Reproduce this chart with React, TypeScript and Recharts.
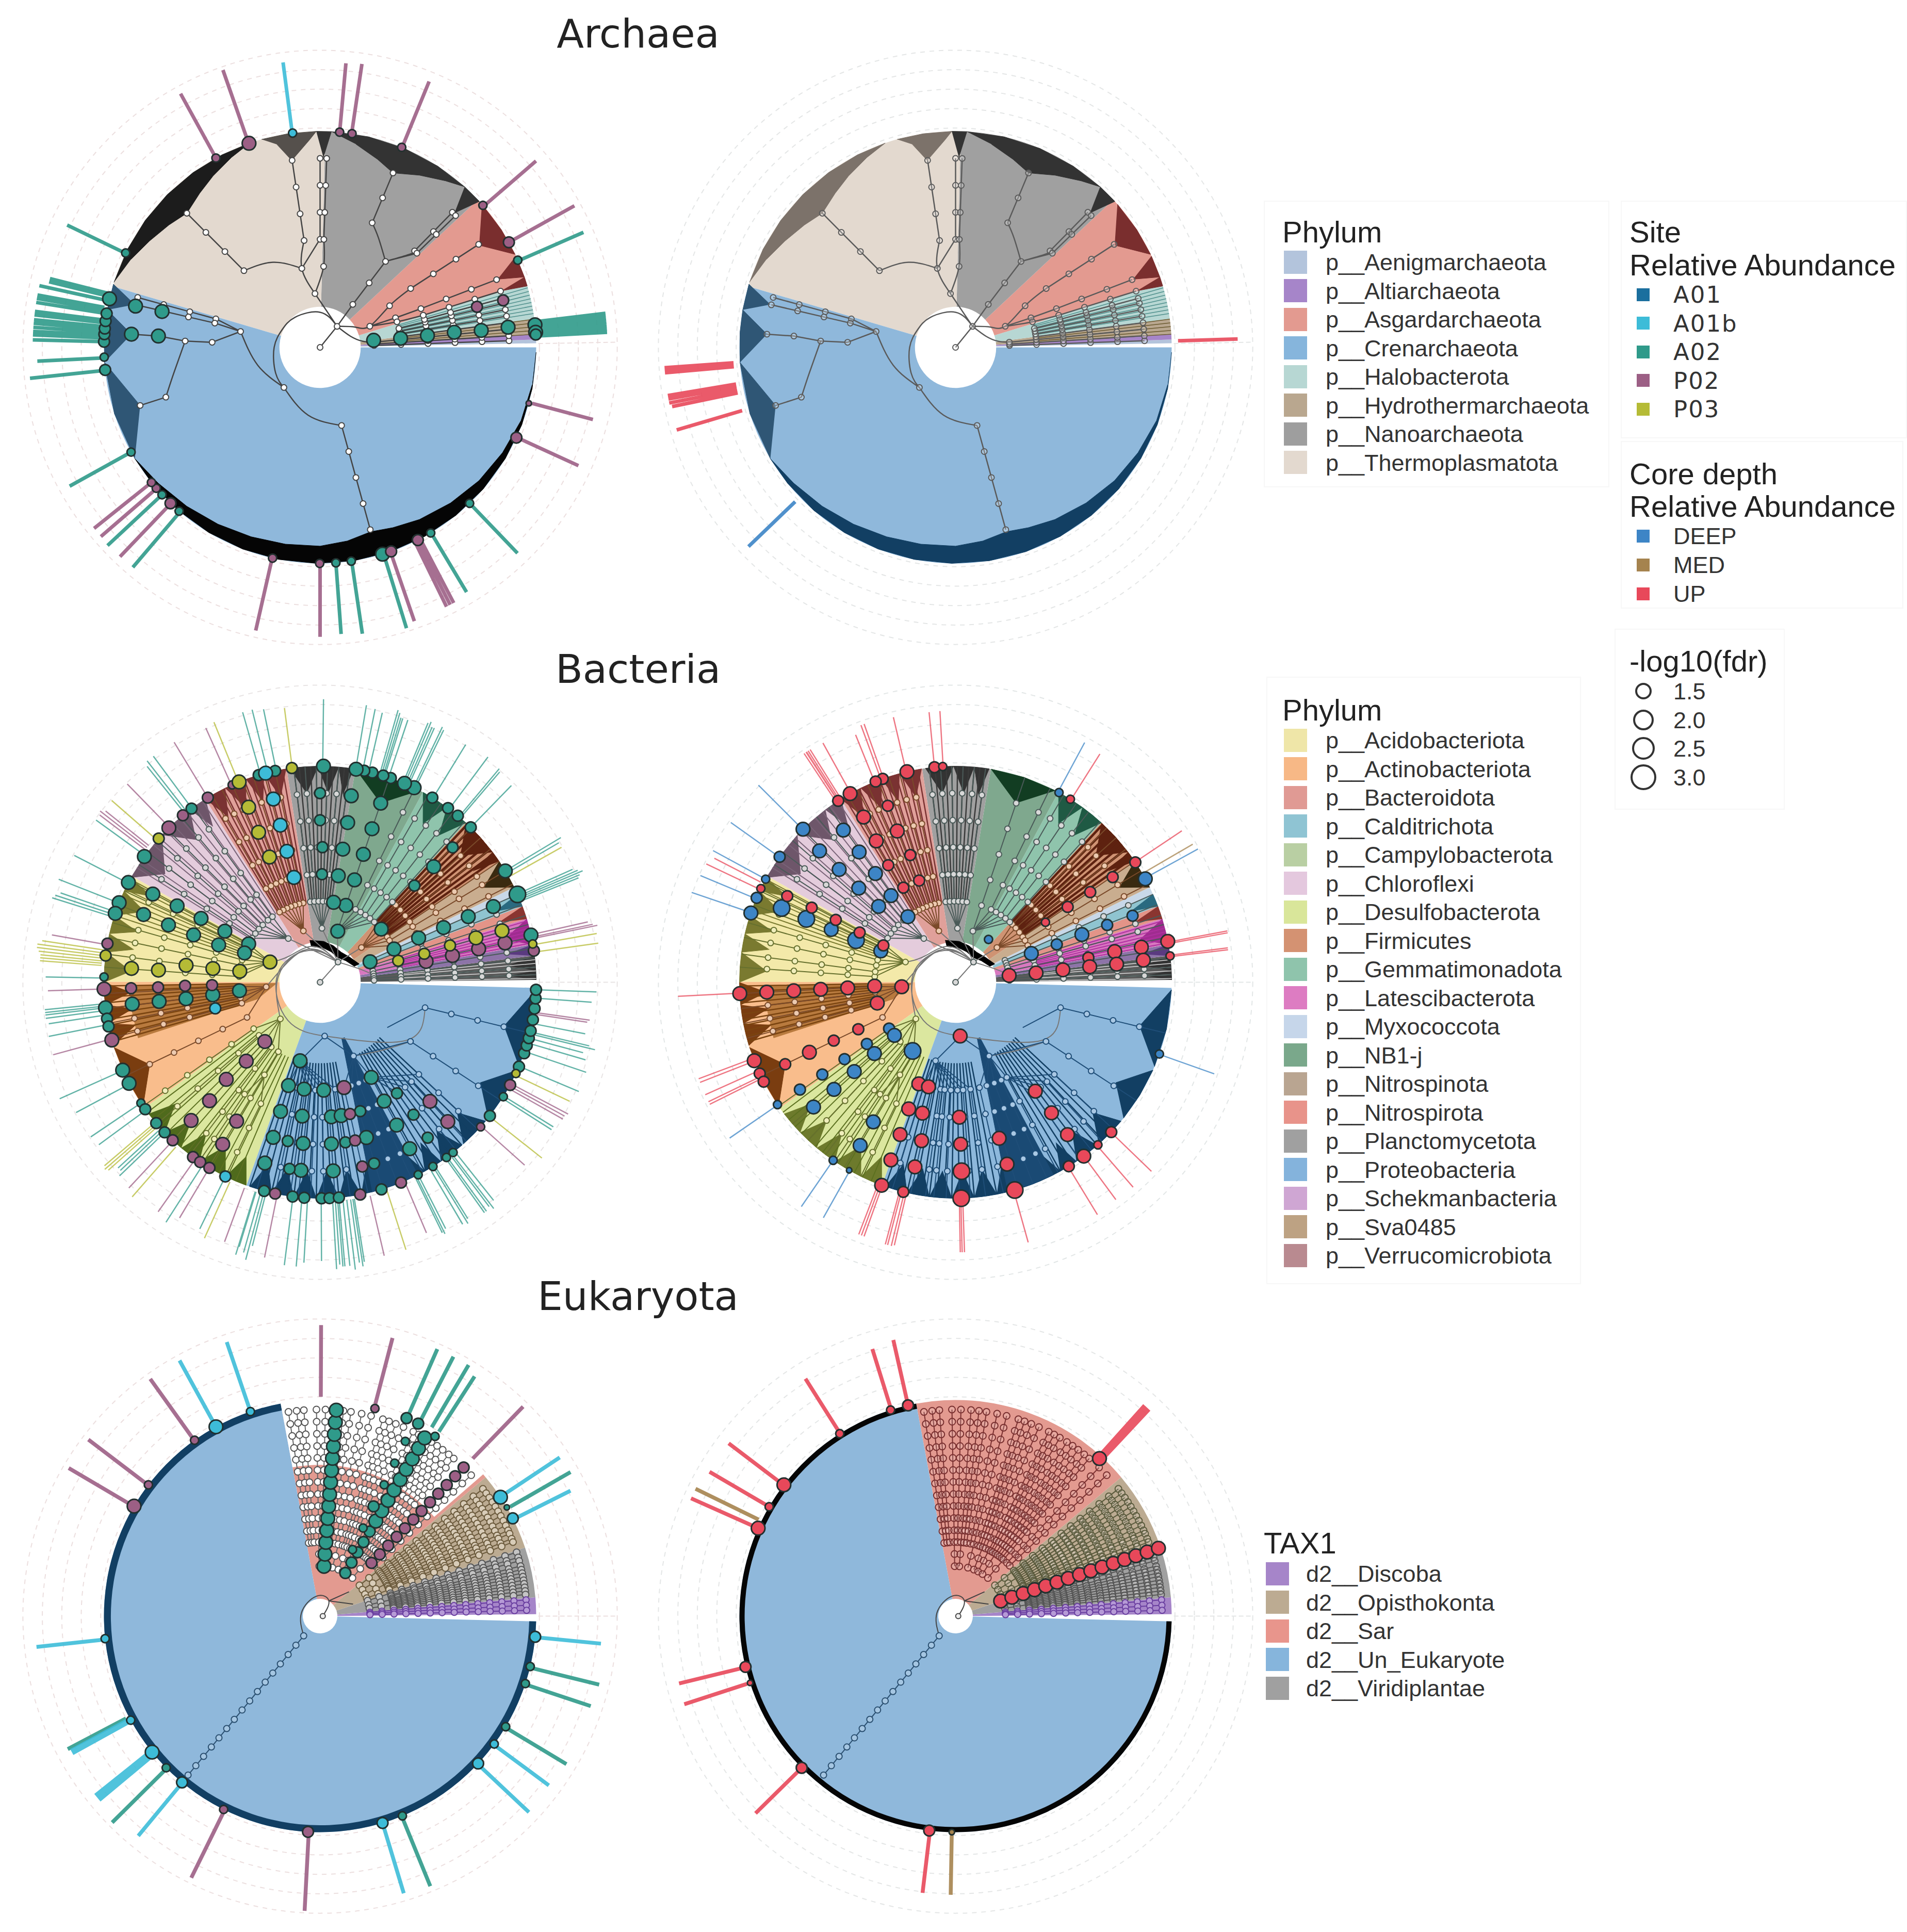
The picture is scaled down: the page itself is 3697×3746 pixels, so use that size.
// App.tsx - circular taxonomy trees, drawn with Pie (clades) and Scatter (fans, branches, nodes, spokes)
import React from 'react';
import { PieChart, Pie, Cell, ScatterChart, Scatter, XAxis, YAxis, ReferenceDot } from 'recharts';

const U = 4.19; // pixels per depth unit (100 = tree tips)
const SPAN = 140;
const SIZE = Math.round(2 * SPAN * U);
const RANK = 12.5; // depth of one taxonomic rank
const INK = '#444';

const siteColors: any = { A01: '#1b6f9e', A01b: '#3dbcd8', A02: '#2f9a8a', P02: '#9c5f85', P03: '#b5bb36', DEEP: '#3d85c6', MED: '#a5834e', UP: '#e8485a' };

// rank sets used by the branches
const r27 = [2, 3, 4, 5, 6, 7];
const r37 = [3, 4, 5, 6, 7];
const r47 = [4, 5, 6, 7];
const r57 = [5, 6, 7];
const ringDepths = [137.5, 128.5, 119.5, 110.5, 101.5];

// ---------- Archaea ----------
const archaeaClades = [
  ['p__Aenigmarchaeota', 1, '#b3c4dc'], ['p__Altiarchaeota', 1.5, '#a685c9'], ['p__Hydrothermarchaeota', 4, '#b9a78f'],
  ['p__Halobacterota', 9.5, '#b7d7d3'], ['p__Asgardarchaeota', 26, '#e39a90'], ['p__Nanoarchaeota', 45.5, '#a0a0a0'],
  ['p__Thermoplasmatota', 75, '#e3d9cf'], ['p__Crenarchaeota', 196.4, '#8fb8db'],
];
const archaeaFanThermo = [
  [[162.5, 100], [153, 100], [144, 100], [135, 100], [126, 100], [117, 100], [109, 100], [115, 97], [122, 93.5], [128, 90.5], [134.8, 87.5], [141, 90], [148, 93], [155, 96.5]],
];
const archaeaFanThermoSmall = [[[105.7, 100], [98.6, 100], [91, 100], [93, 96], [98.6, 87.5], [102, 96]]];
const archaeaFanNano = [
  [[87, 100], [77, 100], [67, 100], [57, 100], [48, 100], [53, 96.5], [60, 92], [67.3, 87.5], [73, 91], [80, 95.5]],
  [[91, 100], [87, 100], [89, 88]],
  [[48, 100], [42.5, 100], [45, 88]],
];
const archaeaFanAsgard = [
  [[41.5, 100], [33, 100], [25.5, 100], [32.7, 87.5]],
  [[25, 100], [19, 100], [21, 88]],
  [[19, 100], [16.5, 100], [17.3, 88]],
];
const archaeaFanCren = [
  [[358.7, 100], [349, 100], [339, 100], [329, 100], [319, 100], [309, 100], [299, 100], [289, 100], [279, 100], [269, 100], [259, 100], [249, 100], [239, 100], [229, 100], [219, 100], [211, 100],
    [220, 97.8], [230, 96], [240, 94.5], [250, 93.3], [260, 92.5], [270, 92], [278, 90.5], [285.4, 88.5], [292, 90], [300, 92], [310, 94], [320, 96], [330, 97.5], [340, 99], [350, 99.7]],
];
const archaeaFanCrenSmall = [
  [[211, 100], [197.9, 100], [184, 100], [197.9, 87.5]],
  [[184, 100], [176, 100], [170, 100], [176, 87.5]],
  [[170, 100], [163, 100], [167, 88]],
];
const leavesArchaeaHalo = [9, 10, 11, 12, 13, 14, 15, 16];
const leavesArchaeaHydro = [3.5, 4.5, 5.5, 6.5, 7.5];
const archaeaSpines = [
  [2, r27], [3.5, r27], [5.5, r27], [7.5, r37], [9.5, r37], [11.5, r37], [13.5, r37], [15, r47],
  [33, r47], [21, r47], [17.3, r47], [52.7, [2, 3, 4]], [67.3, r57], [45.6, r57], [44.2, r57],
  [95.4, [2]], [98.5, r47], [134.8, r47], [90, r47], [88, r47], [87.5, [3]], [103, [3]],
  [285.4, r37], [197.9, [6, 7]], [176, [6, 7]], [177.3, [4, 5]], [164.7, r47], [167, r47], [228, [2]], [168.7, [3]], [51, [1]],
  [23, [2]], [30.9, [3]], [21.4, [3]], [18.4, [3]], [0, [0]],
];
const archaeaLinks = [
  [[0, 0], [51, 1]], [[51, 1], [95.4, 2]], [[95.4, 2], [103, 3], [98.5, 4]], [[103, 3], [119, 3.6], [134.8, 4]],
  [[95.4, 2], [87.5, 3], [88, 4]], [[103, 3], [92, 3.8], [90, 4]], [[51, 1], [52.7, 2]], [[52.7, 4], [62, 4.6], [67.3, 5]],
  [[52.7, 4], [46, 4.8], [45.6, 5]], [[52.7, 4], [44.2, 5]], [[51, 1], [30, 1.5], [23, 2], [30.9, 3], [33, 4]],
  [[23, 2], [21.4, 3], [21, 4]], [[23, 2], [18.4, 3], [17.3, 4]], [[51, 1], [20, 1.2], [8, 1.6], [5.5, 2]],
  [[51, 1], [90, 1.3], [130, 1.45], [155, 1.55], [180, 1.7], [210, 1.9], [228, 2]], [[228, 2], [260, 2.55], [285.4, 3]],
  [[228, 2], [196, 2.4], [168.7, 3]], [[168.7, 3], [177.3, 4]], [[177.3, 5], [190, 5.5], [197.9, 6]], [[177.3, 5], [176, 6]],
  [[168.7, 3], [164.7, 4]], [[168.7, 3], [167, 4]],
];
const archaeaLeftHitsA02 = [
  [7.5, 2, 2.5], [6.4, 3, 2.5], [6.3, 4, 2.5], [6.4, 5, 2.5], [6, 6, 2.5], [6.1, 7, 2.5], [6, 8, 2.5], [4, 8, 2.5], [3.4, 8, 2],
  [23.8, 8, 1.5], [313.8, 8, 1.5], [300.8, 8, 1.5], [286.8, 8, 2.5], [278.3, 8, 1.5], [274.2, 8, 1.5], [229.3, 8, 1.5], [223, 8, 1.5],
  [209, 8, 1.5], [186, 8, 2], [182.6, 8, 1.5], [178.5, 8, 2], [176.5, 8, 2], [175, 8, 2], [173, 8, 2], [171, 8, 2], [167, 8, 2.5],
  [154.1, 8, 1.5], [167.2, 6, 2.5], [167.4, 7, 2.5], [176, 7, 2.5], [176, 6, 2.5],
];
const archaeaLeftHitsP02 = [
  [41.1, 8, 1.5], [29.1, 8, 2], [345, 8, 1], [335.3, 8, 2], [296.9, 8, 2], [289.2, 8, 2], [269.9, 8, 1.5], [257.3, 8, 1.5],
  [226.2, 8, 2], [220.7, 8, 1.5], [218.7, 8, 1.5], [118.8, 8, 1.5], [109.2, 8, 2.5], [84.8, 8, 1.5], [81.5, 8, 1.5], [67.8, 8, 1.5],
  [14.5, 6, 2], [14.4, 7, 2],
];
const archaeaLeftHitsA01b = [[97.3, 8, 1.5]];
const archaeaLeftSpokesA02 = [
  [23.6, 133], [6.8, 133], [6.2, 133], [5.6, 133], [5, 133], [4.4, 133], [3.7, 133], [3, 133], [313.8, 132], [300.9, 132], [287.1, 136],
  [278.4, 134], [274.2, 133], [229.6, 133.7], [223, 134.5], [209, 132.5], [186.1, 135], [182.8, 131], [178.5, 133], [177.5, 133],
  [176.8, 133], [176, 133], [175.2, 133], [174.5, 133], [173.5, 133], [172.8, 133], [171, 133], [170.2, 133], [169.5, 133], [167.6, 133], [166.4, 129], [165.7, 129], [154.2, 130],
];
const archaeaLeftSpokesP02 = [
  [40.8, 132], [29.1, 134.7], [345.2, 130.6], [335.4, 131.5], [296, 133.5], [296.8, 133.5], [297.6, 133.5], [289, 134], [270, 134],
  [257.2, 134.4], [226.3, 134], [220.8, 134], [218.7, 134], [118.8, 134], [109.3, 136], [84.8, 132], [81.6, 132.6], [67.7, 133],
];
const archaeaLeftSpokesA01b = [[97.4, 133]];
const archaeaRightSpokesUP = [
  [184, 135], [184.5, 135], [185, 135], [189.5, 135], [190.2, 135], [191, 135], [191.8, 134], [196.5, 134.6], [1.7, 130.6],
];
const archaeaRightSpokesDEEP = [[223.9, 133]];

// ---------- Bacteria ----------
const bacteriaClades = [
  ['low', 6.5, '#5a5a5a'], ['p__Schekmanbacteria', 3, '#8d74a8'], ['p__Latescibacterota', 7, '#d878c0'], ['p__Nitrospirota', 3.5, '#e39488'],
  ['p__Calditrichota', 3.5, '#8fc4d0'], ['p__Myxococcota', 2, '#c8d8e8'], ['p__Nitrospinota', 8, '#c9ad8f'], ['p__Firmicutes', 13.5, '#cf9373'],
  ['p__Gemmatimonadota', 14, '#8fc4ac'], ['p__NB1-j', 19, '#7fa88e'], ['p__Planctomycetota', 18.3, '#a0a0a0'], ['p__Bacteroidota', 23.2, '#e0a09a'],
  ['p__Chloroflexi', 28.5, '#e4ccdc'], ['p__Acidobacteriota', 29.3, '#f3e9a9'], ['p__Actinobacteriota', 35.7, '#f9bd8c'],
  ['p__Desulfobacterota', 34.5, '#dbe79f'], ['p__Proteobacteria', 108.4, '#8db8dc'],
];
// teeth: [apex angle, arc start, arc end], apex sits on rank 7
const teethProteo = [
  [346.6, 358, 337], [327.9, 336, 321], [316.4, 320, 311.5], [308, 311, 304], [302, 304, 299], [296, 299, 293], [290, 293, 287],
  [284, 287, 281], [278, 281, 275], [272, 275, 269], [266, 269, 263], [260, 263, 257], [254, 257, 251],
];
const teethDesulfo = [[247, 250, 244], [240, 244, 236], [233, 236, 230], [227, 230, 224], [220, 224, 217.5]];
const teethActino = [[205.7, 215, 197.5], [193, 197, 191], [188, 191, 186], [183, 186, 180]];
const teethAcido = [[176.6, 180, 172], [170, 172, 167], [164.5, 167, 162], [158, 162, 155], [153, 155, 151]];
const teethChloro = [[145, 151, 137], [131, 137, 127], [124.5, 127, 122]];
const teethBactero = [[119, 122, 116], [113, 116, 110], [107.5, 110, 105], [102, 105, 99]];
const teethPlancto = [[94, 98, 90.5], [87.5, 90.5, 85], [83, 85, 81]];
const teethNB1 = [[71.3, 80.5, 62.5]];
const teethGemmat = [[57, 61.5, 54], [51, 54, 47.5]];
const teethFirmi = [[42, 47.5, 37], [36, 37, 34]];
const teethNitrospina = [[30, 34, 26]];
const teethCaldi = [[22, 24, 20.5]];
const teethNitrospiro = [[18.5, 20.5, 17]];
const teethLatesci = [[13, 17, 10]];
const teethSchek = [[8.5, 10, 7]];
const teethLow = [[5, 7, 3], [2, 3, 0.6]];
const bacteriaHatchPatches = [[[181, 20], [195, 30], [197, 88], [189, 88], [181, 88]]];
const bacteriaProteoBand = [[[294, 28], [291, 28], [284, 100], [291, 100], [297, 100]]];
const bacteriaCentreBlob = [[[104, 17], [85, 16], [70, 15], [55, 14], [40, 15.5], [25, 17.5], [25, 20], [40, 18], [55, 17], [70, 18], [85, 19], [104, 20]]];
const leavesBactero = [100, 101.5, 103, 104.5, 106, 107.5, 109, 110.5, 112, 113.5, 115, 116.5, 118, 119.5, 121];
const leavesPlancto = [82, 83.5, 85, 86.5, 88, 89.5, 91, 92.5, 94, 95.5, 97];
const leavesFirmi = [35, 36.5, 38, 39.5, 41, 42.5, 44, 45.5, 47];
const leavesActino = [181, 182.5, 184, 185.5, 187, 188.5, 190, 191.5, 193, 194.5, 196];
const leavesLatesci = [10.5, 11.5, 12.5, 13.5, 14.5, 15.5, 16.5];
const leavesLow = [1, 2, 3, 4, 5, 6];
const leavesAcidoUpper = [151.5, 153, 154.5, 156, 157.5, 159, 160.5, 162];
const leavesChloro = [123, 125.5, 128, 130.5, 133, 135.5, 138, 140.5, 143, 145.5, 148];
const leavesDesulfo = [217, 219.5, 222, 224.5, 227, 229.5, 232, 234.5, 237, 239.5, 242, 244.5, 247];
const leavesProteo = [251, 253, 255, 257, 259, 261, 263, 265, 267, 269, 271, 273, 275, 277, 279, 281, 299, 301, 303, 305, 307, 309, 311, 313, 315, 317];
const spinesBlue = [
  [253, r47, 255.7], [258, r47, 255.7], [262, r47, 255.7], [264.2, r47, 255.7], [267.5, r47, 255.7], [271, r47, 255.7], [274, r47, 255.7], [278, r47, 255.7],
  [282.8, r47, 294.4], [286.8, r47, 294.4], [291, r47, 294.4], [295, r47, 294.4], [298.3, r47, 294.4], [305, r57, 298.3], [309, r57, 298.3], [312.6, r57, 298.3], [317, r57, 298.3],
  [346.4, r47, 326], [326.8, r47, 294.4], [274.9, [2]], [255.7, [3], 274.9], [294.4, [3], 274.9],
];
const spinesGreen = [
  [227, r37, 222.7], [233, r37, 222.7], [239, r37, 222.7], [221, r37, 222.7], [215, r37, 222.7], [244, r57, 239], [236, r57, 239], [222.7, [2]],
  [176, r37, 158], [172.5, r37, 158], [168, r37, 158], [164, r37, 158], [159, r37, 158], [155, r37, 158], [152, r37, 158], [158, [2]],
];
const spinesBrown = [
  [183, r37, 184.9], [187, r37, 184.9], [191, r37, 184.9], [195, r37, 184.9], [205.7, r37, 184.9], [184.9, [2]],
  [45.6, r37, 40], [42, r37, 40], [38, r37, 40], [34, r37, 40], [31, r37, 40], [27, r37, 40], [40, [2]],
  [102, r37, 108], [105, r37, 108], [108, r37, 108], [111, r37, 108], [114, r37, 108], [117, r37, 108], [120, r37, 108], [108, [2]],
];
const spinesGrey = [
  [126, r37, 126], [130, r37, 126], [135, r37, 126], [139, r37, 126], [143, r37, 126], [147, r37, 126], [126, [2]],
  [97, r37, 88], [94, r37, 88], [91, r37, 88], [88, r37, 88], [85, r37, 88], [82, r37, 88], [88, [2]],
  [71.3, r27], [64, r37, 71.3], [60, r37, 71.3], [56, r37, 71.3], [52, r37, 71.3], [48, r37, 71.3],
  [24, r27], [21, r27], [18, r27], [15.5, r27], [12, r27], [9, r27], [6.5, r27], [4, r27], [2, r27], [48.4, [1]], [0, [0]],
];
const bacteriaArcs = [
  [[0, 0], [48.4, 1]], [[48.4, 1], [100, 1.35], [140, 1.5], [158, 2]], [[48.4, 1], [110, 1.3], [160, 1.5], [184.9, 2]],
  [[48.4, 1], [110, 1.3], [170, 1.55], [222.7, 2]], [[48.4, 1], [110, 1.25], [170, 1.6], [230, 1.85], [274.9, 2]],
  [[48.4, 1], [126, 2]], [[48.4, 1], [108, 2]], [[48.4, 1], [88, 2]], [[48.4, 1], [71.3, 2]], [[48.4, 1], [40, 2]], [[48.4, 1], [20, 1.5], [8, 2]],
  [[274.9, 2], [326, 3.85], [346.4, 4]], [[294.4, 3], [312, 3.4], [326.8, 4]],
];
const bacteriaLeftHitsA02 = [
  [152.2, 7, 2.5], [151.9, 6, 2.5], [151.8, 5, 2.5], [151.8, 4, 2.5], [151.8, 3, 2.5], [159, 7, 2.5], [159.3, 6, 2.5], [159.5, 5, 2.5], [159.8, 4, 2.5], [158.8, 3, 2.5],
  [158.4, 8, 2.5], [161.4, 8, 2.5], [152.5, 8, 2.5], [178.6, 8, 1.5], [186.8, 8, 2.5], [189.7, 8, 2], [191.8, 8, 2], [186.6, 7, 2.5], [186.8, 6, 2.5], [187, 5, 2.5], [186.7, 4, 2.5], [186, 3, 2.5],
  [204, 8, 2.5], [207.9, 8, 2.5], [214, 8, 1.5], [216, 8, 2], [220.7, 8, 2], [224, 8, 2], [255.7, 3, 2.5], [253, 4, 2.5], [253, 5, 2.5], [253.2, 6, 2.5], [253, 7, 2.5],
  [261.5, 4, 2.5], [262.4, 5, 2.5], [264, 6, 2.5], [264.2, 7, 2.5], [260.7, 7, 2], [258.5, 6, 2], [271.9, 4, 2.5], [274.8, 5, 2.5], [274, 6, 2.5], [274, 7, 2.5], [279, 5, 2.5], [279, 6, 2],
  [287.3, 5, 2], [286.6, 6, 2.5], [286.6, 7, 2], [298.3, 4, 2.5], [298.3, 5, 2.5], [298.2, 6, 2.5], [298.3, 7, 2.5], [304.7, 5, 2], [305.2, 6, 2], [304.7, 7, 2],
  [255, 8, 2], [262.7, 8, 2], [265.8, 8, 2], [270.4, 8, 2], [272.5, 8, 2], [275, 8, 2], [286.5, 8, 2], [297, 8, 1.5], [301.5, 8, 1.5], [305.8, 8, 1.5], [308, 8, 1.5], [321.8, 8, 2], [328, 8, 1.5],
  [337, 8, 2], [340.8, 8, 2], [343, 8, 2], [345, 8, 2], [347, 8, 2], [350, 8, 2], [353, 8, 2], [355.7, 8, 2], [358, 8, 2],
  [22.3, 2, 2.5], [24.2, 3, 2.5], [24.2, 4, 2.5], [23.9, 5, 2.5], [23.9, 6, 2.5], [23.6, 7, 2.5], [24, 8, 3], [31, 8, 2.5], [12.6, 8, 2.5], [41, 3, 2.5], [45.7, 5, 2], [45.5, 6, 2.5], [45.5, 7, 2],
  [45.8, 8, 2], [50.4, 8, 2], [53.7, 8, 2], [58.7, 8, 2], [64.2, 8, 2.5], [67, 8, 2.5], [70.9, 8, 2], [73, 8, 2], [76, 8, 2], [78.2, 8, 2], [80.4, 8, 2.5], [89.1, 8, 2.5],
  [71.3, 7, 2.5], [71.3, 6, 2.5], [71.3, 5, 2.5], [71.4, 4, 2.5], [71.4, 3, 2.5], [70.9, 2, 2.5], [80.5, 7, 2.5], [80.2, 6, 2.5], [80.3, 5, 2.5], [80.3, 4, 2.5], [80.4, 3, 2.5],
  [90, 7, 2], [90, 6, 2], [89, 5, 2], [89, 4, 2], [102, 8, 2], [106.5, 8, 2], [126.5, 8, 2], [144.4, 8, 2.5],
];
const bacteriaLeftHitsP02 = [
  [169.7, 8, 2], [181.8, 8, 2.5], [195.5, 8, 2.5], [181.8, 7, 2], [181.8, 6, 2], [181.5, 5, 2], [181.5, 4, 2], [227, 3, 2.5], [226.9, 4, 2.5], [226, 5, 2.5], [227, 6, 2.5], [227, 7, 2.5], [239, 6, 2.5], [239, 7, 2.5],
  [227, 8, 2], [234, 8, 2], [236.3, 8, 2], [239.2, 8, 2], [282.8, 4, 2.5], [282.8, 5, 2], [282.5, 6, 2], [282.9, 7, 2], [312.7, 6, 2.5], [312.5, 7, 2.5], [258, 8, 2], [280.7, 8, 2], [292, 8, 2], [318, 8, 1.5], [331.6, 8, 2],
  [11.1, 4, 2.5], [11.4, 5, 2.5], [11.9, 6, 2.5], [12, 7, 2.5], [8.4, 8, 2], [114, 8, 1.5], [121.3, 8, 2], [129.4, 8, 2], [134.4, 8, 2.5],
];
const bacteriaLeftHitsP03 = [
  [172.9, 8, 2], [175.8, 7, 2.5], [175.7, 6, 2.5], [172.8, 5, 2.5], [172.7, 4, 2.5], [172.2, 3, 2.5], [158, 2, 2.5], [335, 8, 1.5], [15.4, 3, 2], [15.3, 4, 2], [15.8, 5, 2], [15.9, 6, 2.5], [15.8, 7, 2.5], [10.2, 8, 1.5],
  [97.5, 8, 2], [112, 8, 2.5], [112.2, 7, 2.5], [112.3, 6, 2.5], [112, 5, 2.5], [138.3, 8, 2],
];
const bacteriaLeftHitsA01b = [[194, 4, 2], [244, 8, 2], [104.3, 7, 2.5], [104.2, 6, 2.5], [104.2, 5, 2.5], [104, 4, 2.5], [104.6, 8, 2.5]];
const bacteriaLeftSpokesA02 = [
  [358, 128], [355.8, 126], [349, 125], [346.7, 128], [346.2, 131], [345, 126], [343.7, 128], [341.3, 130], [337.1, 130], [328.2, 127], [327.5, 127], [307.5, 132], [307, 130], [306, 131], [308.5, 129], [305.5, 131],
  [301.5, 131], [302, 129], [300.5, 130], [296.4, 130], [297, 128], [296, 129], [278.6, 133], [278, 131], [277, 134], [279, 131], [276, 132], [275, 132], [274, 131], [274.6, 132], [273.3, 133], [270.3, 129], [266.7, 130], [265.2, 132],
  [262.8, 132], [254.2, 130], [253, 128], [255, 133], [252.8, 132], [255.6, 126], [244, 127], [237.3, 132], [223.3, 127], [222.6, 127], [224, 129], [216.3, 127], [214, 128], [208.1, 128], [204.1, 132], [191.3, 128], [188.7, 127],
  [187.5, 128], [186.3, 128], [185.7, 128], [186.8, 128], [178.9, 127], [161.8, 129], [161, 127], [162.5, 130], [158.5, 130], [152.7, 128], [144.1, 128], [128.7, 128], [128, 130], [126.4, 130], [106, 130], [104, 130], [101.7, 129],
  [89.3, 131], [80.5, 130], [78.6, 129], [77, 128], [73.5, 130], [73, 128], [74, 131], [72.6, 128], [71.5, 128], [66.9, 131], [66.3, 129], [67.4, 130], [65.8, 129], [64.4, 131], [63.9, 130], [58.5, 129], [53.3, 130], [50, 129], [49.5, 128],
  [45.8, 127], [31, 130], [30.3, 128], [23.5, 130], [23, 132], [22.5, 130], [22, 129], [24.1, 128],
];
const bacteriaLeftSpokesP02 = [
  [351.5, 125], [352, 126], [332, 130], [331.3, 129], [330.6, 129], [318.2, 127], [293, 126], [283.2, 130], [258.6, 130], [249.8, 128], [239.2, 127], [234.8, 130], [227.1, 130], [195.2, 128], [181.8, 126], [170, 126],
  [142.1, 129], [141.4, 127], [142.8, 128], [134.2, 128], [121.3, 130], [114.2, 129], [11.6, 131], [12.7, 127], [12, 129],
];
const bacteriaLeftSpokesP03 = [
  [334.5, 128], [321.6, 131], [287.8, 130], [245.7, 130], [228.8, 132], [221, 132], [220.4, 131], [221.6, 131], [171.5, 130], [172.3, 132], [173, 132], [173.7, 131], [174.4, 130], [175, 130], [175.6, 130],
  [138.9, 128], [112.2, 130], [97.4, 128], [29.2, 128], [10, 130], [8, 130],
];
const bacteriaRightHitsUP = [
  [10.9, 8, 2.5], [7, 8, 1.5], [33.7, 8, 2], [33.8, 7, 2], [33.8, 6, 2], [33.9, 5, 2], [33.7, 4, 1.5], [10.7, 7, 2.5], [10.9, 6, 2.5], [10.5, 5, 2], [6.7, 7, 2.5], [6.4, 6, 2.5], [6.6, 5, 2.5], [6.6, 4, 2.5], [6.6, 3, 2.5], [7.2, 2, 2.5],
  [57.9, 8, 1.5], [95.6, 8, 2], [93.4, 8, 1.5], [103, 8, 2.5], [109.7, 8, 2], [111.7, 8, 2], [119.2, 8, 2.5], [122.9, 8, 2], [111, 7, 2], [111.1, 6, 2.5], [109.6, 5, 2], [109.7, 4, 2], [118.9, 4, 2], [119.9, 5, 2], [119.3, 6, 2.5], [119.1, 7, 2.5],
  [153, 3, 2], [152.6, 4, 2], [152.5, 5, 2], [152.6, 6, 2], [152.9, 7, 2], [154.3, 8, 1.5], [184.8, 2, 2.5], [182.7, 3, 2.5], [183, 4, 2.5], [183, 5, 2.5], [183, 6, 2.5], [183, 7, 2.5], [183, 8, 2.5],
  [194.9, 3, 2.5], [205.8, 4, 2], [205.6, 5, 2], [205.6, 6, 2.5], [205.7, 7, 2], [201.3, 8, 2.5], [205, 8, 2], [207.4, 8, 2],
  [274.9, 2, 2.5], [250.1, 4, 2.5], [255.5, 4, 2.5], [249.7, 5, 2.5], [255.8, 5, 2.5], [250, 6, 2.5], [257.9, 6, 2.5], [250, 7, 2.5], [257.6, 7, 2.5], [250, 8, 2.5], [256, 8, 2], [271.6, 5, 2.5], [271.8, 6, 2.5], [271.8, 7, 3], [271.5, 8, 3],
  [285.6, 6, 2.5], [285.8, 7, 2.5], [285.9, 8, 3], [306.2, 5, 2.5], [306.3, 6, 2.5], [306.3, 7, 2.5], [306.4, 8, 2.5], [301.6, 8, 2], [311.2, 8, 1.5], [316.1, 8, 2],
];
const bacteriaRightHitsDEEP = [
  [28.6, 8, 2.5], [20.6, 7, 2], [20.7, 6, 2], [20.7, 5, 2.5], [20.5, 4, 2], [20.8, 3, 2.5], [52.4, 2, 1.5], [61.4, 8, 1.5], [126, 3, 2.5], [126.7, 4, 2.5], [135.4, 4, 2.5], [126.4, 5, 2.5], [135.8, 5, 2.5], [126.5, 6, 2.5], [135.9, 6, 2.5], [126.4, 7, 2.5], [136, 7, 2.5],
  [134.9, 8, 2.5], [144.5, 8, 2], [151.5, 8, 1.5], [157, 8, 2], [161.3, 8, 2.5], [157.3, 3, 2.5], [157.1, 4, 3], [157, 5, 2.5], [157, 6, 3], [156.9, 7, 3],
  [214.5, 8, 1.5], [238, 3, 3], [214.9, 3, 2], [221, 3, 2.5], [214.8, 4, 2], [221.3, 4, 2.5], [214.7, 5, 2], [221.4, 5, 2.5], [214.7, 6, 2], [221.4, 6, 2.5], [214.6, 7, 2], [221.3, 7, 2.5], [239.5, 6, 2.5], [239.7, 7, 2.5], [235.5, 8, 1.5], [240.5, 8, 1], [340.6, 8, 1.5],
];
const bacteriaRightSpokesUP = [
  [33.8, 126], [10.7, 128], [10.3, 128], [7.2, 127], [6.8, 127], [316, 126], [310.9, 125.5], [306.4, 125], [301.4, 126], [285.6, 125], [271, 125], [271.4, 125], [271.9, 125], [255, 125.6], [255.5, 125.6], [256.3, 125.6], [256.9, 125],
  [249, 125], [249.6, 125], [250.2, 125], [206.4, 127], [205.8, 127], [204.2, 127], [201.4, 127], [200.6, 127], [182.9, 128.6], [154.6, 127.7], [152.8, 125.5], [122, 127], [122.5, 127], [123, 127], [123.5, 127], [122.9, 127], [119, 126.6],
  [112, 123.5], [110.2, 126.8], [109.5, 126.8], [103.2, 126], [95.6, 125.6], [93.3, 125.7], [57.7, 125],
];
const bacteriaRightSpokesDEEP = [[28.8, 128], [340.5, 127], [240.7, 125], [235.5, 126], [214.6, 127], [161.2, 129], [157.3, 128], [151.5, 127.7], [144.6, 127.6], [135, 129], [61.7, 126]];
const bacteriaRightSpokesMED = [[30.2, 127]];

// ---------- Eukaryota ----------
const eukClades = [
  ['d2__Discoba', 4.5, '#a685c9'], ['d2__Viridiplantae', 13.5, '#a0a0a0'], ['d2__Opisthokonta', 21.5, '#bcab92'],
  ['d2__Sar', 60.5, '#e39a90'], ['d2__Un_Eukaryote', 258.1, '#8fb8db'],
];
const eukChain = [0.95, 1.4, 1.85, 2.3, 2.74, 3.18, 3.63, 4.08, 4.52, 4.97, 5.41, 5.86, 6.3, 6.75, 7.2, 7.65];
const eukLevels = [1.85, 2.3, 2.74, 3.18, 3.63, 4.08, 4.52, 4.97, 5.41, 5.86, 6.3, 6.75, 7.2, 7.65];
const eukUpper = [2.74, 3.18, 3.63, 4.08, 4.52, 4.97, 5.41, 5.86, 6.3, 6.75, 7.2, 7.65];
const eukSpineBlue = [[230.3, eukChain]];
const eukSpinesSar = [
  [98.8, eukUpper], [96.5, eukUpper], [94.5, eukUpper], [91, eukLevels], [88.5, eukUpper], [85.7, eukLevels], [83.5, eukUpper], [81.4, eukUpper], [78.4, eukUpper], [75.7, eukLevels], [72.3, eukUpper], [70.5, eukUpper], [68.5, eukLevels], [66.2, eukUpper], [63.2, eukLevels],
  [61.5, eukUpper], [59.7, eukUpper], [57.4, eukLevels], [55.5, eukUpper], [53.6, eukUpper], [51.5, eukUpper], [49.7, eukLevels], [46, eukUpper], [43, eukUpper],
];
const eukSpinesOpis = [[38, eukLevels], [36.5, eukUpper], [35, eukUpper], [33.5, eukUpper], [32, eukLevels], [30.5, eukUpper], [29, eukUpper], [27.5, eukUpper], [26, eukLevels], [24.5, eukUpper], [23.5, eukUpper], [22, eukUpper], [21, eukLevels]];
const eukSpinesViridi = [[18, eukLevels], [16.5, eukUpper], [15.5, eukUpper], [14, eukUpper], [13, eukLevels], [12, eukUpper], [11, eukUpper], [10, eukUpper], [9, eukLevels], [8, eukUpper], [7, eukUpper], [6, eukUpper]];
const eukSpinesDiscoba = [[4.5, eukLevels], [3, eukLevels], [1.6, eukLevels]];
const eukLinks = [[[0, 0.1], [60, 0.65], [100, 0.75], [170, 0.7], [230.3, 0.95]], [[60, 0.65], [40, 1.4]], [[60, 0.65], [20, 1.3]]];
const eukRoot = [[0, [0.1]]];
const eukLeftHitsA02 = [
  [85.5, 1.85, 2.5], [85.5, 2.3, 2.5], [85.5, 2.74, 2.5], [85.5, 3.18, 2.5], [85.5, 3.63, 2.5], [85.5, 4.08, 2.5], [85.5, 4.52, 2.5], [85.5, 4.97, 2.5], [85.5, 5.41, 2.5], [85.5, 5.86, 2.5], [85.5, 6.3, 2.5], [85.5, 6.75, 2.5], [85.5, 7.2, 2.5], [85.5, 7.65, 2.5],
  [59.6, 1.85, 2], [59.6, 2.3, 2], [59.6, 2.74, 2], [59.6, 3.18, 2], [59.6, 3.63, 2], [59.6, 4.08, 2.5], [59.6, 4.52, 2.5], [59.6, 4.97, 2.5], [59.6, 5.41, 2.5], [59.6, 5.86, 2.5], [59.6, 6.3, 2.5], [59.6, 6.75, 2.5], [59.6, 7.2, 2.5], [59.6, 7.65, 2.5],
  [64, 2.74, 1.5], [64, 3.63, 1.5], [64, 4.52, 2], [64, 5.41, 1.5], [64, 6.3, 1.5], [64, 7.2, 1.5], [66.4, 8, 2], [63, 8, 2], [57.4, 7.9, 1.5], [30.2, 8, 1], [346.5, 8, 1.5], [341.8, 8, 1.5], [329.2, 8, 1.5], [292.4, 8, 1.5], [224.6, 8, 1.5],
];
const eukLeftHitsP02 = [
  [46, 2.74, 2], [46, 3.18, 2], [46, 3.63, 2], [46, 4.08, 2], [46, 4.52, 2], [46, 4.97, 2], [46, 5.41, 2], [46, 5.86, 2], [46, 6.3, 2], [46, 6.75, 2], [46, 7.2, 2], [46, 7.65, 2],
  [75.2, 7.95, 1.5], [125.5, 8, 1.5], [142.6, 8, 1.5], [149.4, 8, 2.5], [243.5, 8, 1.5], [266.8, 8, 2],
];
const eukLeftHitsA01b = [[33.4, 8, 2.5], [26.9, 8, 2], [118.8, 8, 2.5], [108.8, 8, 1.5], [186, 8, 1.5], [208.8, 8, 1.5], [219, 8, 2.5], [230.3, 8, 2], [286.8, 8, 2], [317, 8, 2], [323.7, 8, 1.5], [354.5, 8, 2]];
const eukLeftSpokesP02 = [[89.8, 134.7], [75.4, 133], [45.9, 135], [149.5, 135], [142.7, 134.8], [125.6, 135], [267, 136.6], [243.8, 135]];
const eukLeftSpokesA02 = [[66.3, 135], [62.8, 135], [59.4, 135], [57.2, 132], [29.9, 133.7], [346.2, 133], [341.6, 132], [329, 133], [292.2, 135], [224.8, 135.6], [207.8, 132]];
const eukLeftSpokesA01b = [[33.5, 133], [26.6, 129.6], [354.4, 130.6], [323.5, 131.7], [316.8, 132.6], [286.8, 134], [230.4, 132], [218.6, 133], [219.2, 133], [219.8, 133], [209, 131], [208.4, 131], [186.2, 132], [118.8, 135], [108.8, 134]];
const eukRightHitsUP = [
  [18.5, 1.76, 2.5], [18.5, 2.2, 2.5], [18.5, 2.64, 2.5], [18.5, 3.08, 2.5], [18.5, 3.52, 2.5], [18.5, 3.96, 2.5], [18.5, 4.4, 2.5], [18.5, 4.84, 2.5], [18.5, 5.28, 2.5], [18.5, 5.72, 2.5], [18.5, 6.16, 2.5], [18.5, 6.6, 2.5], [18.5, 7.04, 2.5], [18.5, 7.48, 2.5], [18.5, 7.92, 2.5],
  [47.6, 7.9, 2.5], [102.7, 8, 2], [107.5, 8, 1.5], [122.4, 8, 1.5], [142.6, 8, 2.5], [149.6, 8, 1.5], [156, 8, 2.5], [193.6, 8, 2], [198, 8, 1], [224.6, 8, 2], [263, 8, 2],
];
const eukRightHitsMED = [[269, 8, 1]];
const eukRightSpokesUP = [[47.5, 131], [46.9, 131], [48.1, 131], [102.7, 131], [107.3, 129.5], [122.3, 130], [142.7, 132], [149.6, 132], [156, 134], [193.7, 131.7], [198, 132], [224.6, 130], [263.2, 129]];
const eukRightSpokesMED = [[153.9, 134], [269, 129]];

// ---------- legends ----------
const archaeaLegend = ['p__Aenigmarchaeota', 'p__Altiarchaeota', 'p__Asgardarchaeota', 'p__Crenarchaeota', 'p__Halobacterota', 'p__Hydrothermarchaeota', 'p__Nanoarchaeota', 'p__Thermoplasmatota'];
const archaeaLegendColors = ['#b3c4dc', '#a685c9', '#e39a90', '#86b5dc', '#b7d7d3', '#b9a78f', '#9e9e9e', '#e3d9cf'];
const bacteriaLegend = ['p__Acidobacteriota', 'p__Actinobacteriota', 'p__Bacteroidota', 'p__Calditrichota', 'p__Campylobacterota', 'p__Chloroflexi', 'p__Desulfobacterota', 'p__Firmicutes', 'p__Gemmatimonadota', 'p__Latescibacterota', 'p__Myxococcota', 'p__NB1-j', 'p__Nitrospinota', 'p__Nitrospirota', 'p__Planctomycetota', 'p__Proteobacteria', 'p__Schekmanbacteria', 'p__Sva0485', 'p__Verrucomicrobiota'];
const bacteriaLegendColors = ['#efe6a8', '#f7b886', '#e09a94', '#8fc4d3', '#b9cfa3', '#e4c8de', '#d9e69a', '#d49272', '#8fc4ac', '#dd7cc2', '#c6d6ea', '#7aa88b', '#b9a591', '#e8938a', '#a0a0a0', '#84b3dc', '#cfa6d3', '#bda283', '#b98a90'];
const eukLegend = ['d2__Discoba', 'd2__Opisthokonta', 'd2__Sar', 'd2__Un_Eukaryote', 'd2__Viridiplantae'];
const eukLegendColors = ['#a685c9', '#bcab92', '#e8958c', '#86b5dc', '#a0a0a0'];
const siteLabels = ['A01', 'A01b', 'A02', 'P02', 'P03'];
const depthLabels = ['DEEP', 'MED', 'UP'];
const fdrLabels = ['1.5', '2.0', '2.5', '3.0'];
const fdrRadius = [16, 20, 22, 25];

// polar helpers: angle in degrees counter clockwise, depth in tree units
const pos = (a: number, d: number) => ({ x: d * Math.cos((a * Math.PI) / 180), y: d * Math.sin((a * Math.PI) / 180) });
const GAP = { x: null, y: null };
const paths = (list: any[]) => list.flatMap((p: any[]) => [...p.map(([a, r]) => pos(a, r * RANK)), GAP]);
const polys = (list: any[]) => list.flatMap((p: any[]) => [...p.map(([a, d]) => pos(a, d)), GAP]);
const teeth = (list: any[]) => list.flatMap(([a, s, e]) => [pos(a, 87.5), pos(s, 100), pos((s + e) / 2, 100), pos(e, 100), GAP]);
const spokes = (list: any[], start = 101.5) => list.flatMap(([a, end]) => [pos(a, start), pos(a, end), GAP]);
const leaves = (list: number[]) => list.flatMap((a) => [pos(a, 37.5), pos(a, 100), GAP]);
const spinePaths = (list: any[], tip = false) => list.flatMap(([a, ranks, parent]) => {
  const line = ranks.map((r: number) => pos(a, r * RANK));
  const head = parent !== undefined ? [pos(parent, (ranks[0] - 1) * RANK)] : [];
  const tail = tip && ranks.length > 1 ? [pos(a, 100)] : [];
  return [...head, ...line, ...tail, GAP];
});
const spineNodes = (list: any[]) => list.flatMap(([a, ranks]) => ranks.map((r: number) => pos(a, r * RANK)));
const hitNodes = (list: any[]) => list.map(([a, r, fdr]) => ({ ...pos(a, r * RANK), fdr }));

const hollow = (fill: string, stroke: string, r: number, width = 2) => (p: any) =>
  p.cx == null ? <g /> : <circle cx={p.cx} cy={p.cy} r={r} fill={fill} stroke={stroke} strokeWidth={width} />;
const hit = (fill: string) => (p: any) =>
  <circle cx={p.cx} cy={p.cy} r={p.payload.fdr * 5.3} fill={fill} stroke="#22302f" strokeWidth={3} />;
const none = () => <g />;

function Panel({ cx, cy, clades, inner = 18.8, start, ringColor, fills = [], lines = [], spokeSets = [], nodes = [], hits = [], band, whiteOut, horizon = 0 }: any) {
  const end = clades.reduce((s: number, c: any) => s + c[1], start);
  const cladeData = clades.map((c: any) => ({ name: c[0], value: c[1] }));
  return (
    <div style={{ position: 'absolute', left: cx - SIZE / 2, top: cy - SIZE / 2, width: SIZE, height: SIZE }}>
      <div style={{ position: 'absolute', left: 0, top: 0 }}>
        <PieChart width={SIZE} height={SIZE} margin={{ top: 0, right: 0, bottom: 0, left: 0 }}>
          <Pie data={cladeData} dataKey="value" cx={SIZE / 2} cy={SIZE / 2} innerRadius={inner * U} outerRadius={100 * U} startAngle={start} endAngle={end} stroke="none" isAnimationActive={false}>
            {clades.map((c: any) => <Cell key={c[0]} fill={c[2]} />)}
          </Pie>
          {band && (
            <Pie data={[{ value: 1 }]} dataKey="value" cx={SIZE / 2} cy={SIZE / 2} innerRadius={band.inner * U} outerRadius={100 * U} startAngle={band.from} endAngle={band.to} stroke="none" fill={band.color} isAnimationActive={false} />
          )}
          {whiteOut && (
            <Pie data={[{ value: 1 }]} dataKey="value" cx={SIZE / 2} cy={SIZE / 2} innerRadius={whiteOut.inner * U} outerRadius={101 * U} startAngle={whiteOut.from} endAngle={whiteOut.to} stroke="none" fill="#fff" isAnimationActive={false} />
          )}
        </PieChart>
      </div>
      <div style={{ position: 'absolute', left: 0, top: 0 }}>
        <ScatterChart width={SIZE} height={SIZE} margin={{ top: 0, right: 0, bottom: 0, left: 0 }}>
          <XAxis type="number" dataKey="x" domain={[-SPAN, SPAN]} hide allowDataOverflow />
          <YAxis type="number" dataKey="y" domain={[-SPAN, SPAN]} hide allowDataOverflow />
          {ringDepths.map((d) => (
            <ReferenceDot key={d} x={0} y={0} r={d * U} fill="none" stroke={ringColor} strokeWidth={2} strokeDasharray="9 9" isFront={false} />
          ))}
          <Scatter data={[pos(horizon, 101), pos(horizon, 137.5)]} line={{ stroke: ringColor, strokeWidth: 2, strokeDasharray: '9 5' }} shape={none} isAnimationActive={false} />
          {fills.map((f: any, i: number) => (
            <Scatter key={'f' + i} data={f.data} line={{ fill: f.color, stroke: f.color, strokeWidth: 1 }} shape={none} isAnimationActive={false} />
          ))}
          {lines.map((l: any, i: number) => (
            <Scatter key={'l' + i} data={l.data} lineJointType={l.curve ? 'natural' : 'linear'} line={{ stroke: l.color, strokeWidth: l.width, fill: 'none', strokeOpacity: l.opacity ?? 1 }} shape={none} isAnimationActive={false} />
          ))}
          {spokeSets.map((s: any, i: number) => (
            <Scatter key={'s' + i} data={s.data} line={{ stroke: s.color, strokeWidth: s.width, fill: 'none', strokeOpacity: s.opacity ?? 0.9 }} shape={none} isAnimationActive={false} />
          ))}
          {nodes.map((n: any, i: number) => (
            <Scatter key={'n' + i} data={n.data} shape={hollow(n.fill, n.stroke, n.r)} isAnimationActive={false} />
          ))}
          {hits.map((h: any, i: number) => (
            <Scatter key={'h' + i} data={h.data} shape={hit(h.color)} isAnimationActive={false} />
          ))}
        </ScatterChart>
      </div>
    </div>
  );
}

const sans = '"Liberation Sans", Arial, sans-serif';
function Label({ x, y, size = 45, children, font = sans, color = '#333', spacing = 0 }: any) {
  return <div style={{ position: 'absolute', left: x, top: y, transform: 'translateY(-50%)', fontFamily: font, fontSize: size, lineHeight: 1, color, whiteSpace: 'nowrap', letterSpacing: spacing }}>{children}</div>;
}
function Swatch({ x, y, w, color }: any) {
  return <div style={{ position: 'absolute', left: x, top: y - w / 2, width: w, height: w, background: color }} />;
}
function Box({ x, y, w, h }: any) {
  return <div style={{ position: 'absolute', left: x, top: y, width: w, height: h, border: '2px solid #f7f7f7', boxSizing: 'border-box' }} />;
}
function PhylumLegend({ title, titleY, titleX, names, colors, firstY, step, swatchX, textX }: any) {
  return (
    <>
      <Label x={titleX} y={titleY} size={58} color="#222">{title}</Label>
      {names.map((n: string, i: number) => (
        <React.Fragment key={n}>
          <Swatch x={swatchX} y={firstY + i * step} w={45} color={colors[i]} />
          <Label x={textX} y={firstY + i * step}>{n}</Label>
        </React.Fragment>
      ))}
    </>
  );
}
function Title({ y, children }: any) {
  return <div style={{ position: 'absolute', left: 1237, top: y, transform: 'translate(-50%,-50%)', fontFamily: '"DejaVu Sans"', fontSize: 77, lineHeight: 1, color: '#222' }}>{children}</div>;
}

// shared layers for the two panels of each kingdom
const archaeaBase = (thermo: string, thermoSmall: string, cren: string, nano: string, asgard: string) => [
  { data: polys(archaeaFanThermo), color: thermo }, { data: polys(archaeaFanThermoSmall), color: thermoSmall }, { data: polys(archaeaFanNano), color: nano }, { data: polys(archaeaFanAsgard), color: asgard },
  { data: polys(archaeaFanCren), color: cren }, { data: polys(archaeaFanCrenSmall), color: '#2f5675' },
];
const archaeaLines = (color: string) => [
  { data: leaves(leavesArchaeaHalo), color: '#4f8f8c', width: 1.5 }, { data: leaves(leavesArchaeaHydro), color: '#6a5a30', width: 1.5 },
  { data: paths(archaeaLinks), color, width: 2.5, curve: true }, { data: spinePaths(archaeaSpines), color, width: 2.5 },
];
const bacteriaFills = (olive: string) => [
  { data: polys(bacteriaHatchPatches), color: '#b87a3e' }, { data: teeth(teethProteo), color: '#123f63' }, { data: polys(bacteriaProteoBand), color: '#1a4a74' },
  { data: teeth(teethDesulfo), color: olive }, { data: teeth(teethActino), color: '#7a3d10' }, { data: teeth(teethAcido), color: '#7a7a30' },
  { data: teeth(teethChloro), color: '#6e566a' }, { data: teeth(teethBactero), color: '#7a3232' }, { data: teeth(teethPlancto), color: '#333' },
  { data: teeth(teethNB1), color: '#123d22' }, { data: teeth(teethGemmat), color: '#1f5a44' }, { data: teeth(teethFirmi), color: '#5e2210' },
  { data: teeth(teethNitrospina), color: '#3a2a10' }, { data: teeth(teethCaldi), color: '#2a6a80' }, { data: teeth(teethNitrospiro), color: '#8a3530' },
  { data: teeth(teethLatesci), color: '#a02c90' }, { data: teeth(teethSchek), color: '#5a3a80' }, { data: teeth(teethLow), color: '#333' },
  { data: polys(bacteriaCentreBlob), color: '#000' },
];
const bacteriaLines = [
  { data: leaves(leavesBactero), color: '#7a3232', width: 2.5 }, { data: leaves(leavesPlancto), color: '#3a3a3a', width: 2.5 }, { data: leaves(leavesFirmi), color: '#5e2210', width: 4.5 },
  { data: leaves(leavesActino), color: '#7a4410', width: 2.5 }, { data: leaves(leavesLatesci), color: '#b030a0', width: 2 }, { data: leaves(leavesLow), color: '#dcdcdc', width: 1.5 },
  { data: leaves(leavesAcidoUpper), color: '#7a7a30', width: 2 }, { data: leaves(leavesChloro), color: '#7a6478', width: 2 }, { data: leaves(leavesDesulfo), color: '#5c7020', width: 2 }, { data: leaves(leavesProteo), color: '#123f63', width: 2.5 },
  { data: paths(bacteriaArcs), color: '#777', width: 2, curve: true }, { data: spinePaths(spinesBlue, true), color: '#1f4e78', width: 2 },
  { data: spinePaths(spinesGreen, true), color: '#66702e', width: 2 }, { data: spinePaths(spinesBrown, true), color: '#7a4a2a', width: 2 }, { data: spinePaths(spinesGrey, true), color: '#4a5a58', width: 2 },
];
const bacteriaNodes = [
  { data: spineNodes(spinesBlue), fill: '#a9c8e4', stroke: '#1f4e78', r: 5.5 }, { data: spineNodes(spinesGreen), fill: '#f0eebc', stroke: '#66702e', r: 5.5 },
  { data: spineNodes(spinesBrown), fill: '#eccab0', stroke: '#7a4a2a', r: 5.5 }, { data: spineNodes(spinesGrey), fill: '#d8d8d8', stroke: '#4a5a58', r: 5.5 },
];
const eukLines = (sar: string, opis: string, viridi: string) => [
  { data: paths(eukLinks), color: '#444', width: 2, curve: true }, { data: spinePaths(eukSpineBlue), color: '#2a4f70', width: 2 }, { data: spinePaths(eukSpinesSar), color: sar, width: 2 },
  { data: spinePaths(eukSpinesOpis), color: opis, width: 2 }, { data: spinePaths(eukSpinesViridi), color: viridi, width: 2 }, { data: spinePaths(eukSpinesDiscoba), color: '#6a3fa0', width: 2 },
];
const eukNodes = (sarFill: string, sar: string, opisFill: string, opis: string, viridiFill: string, viridi: string) => [
  { data: spineNodes(eukRoot), fill: '#eee', stroke: '#444', r: 5 }, { data: spineNodes(eukSpineBlue), fill: '#a5c6e2', stroke: '#2a4f70', r: 6 },
  { data: spineNodes(eukSpinesSar), fill: sarFill, stroke: sar, r: 6.5 }, { data: spineNodes(eukSpinesOpis), fill: opisFill, stroke: opis, r: 6.5 },
  { data: spineNodes(eukSpinesViridi), fill: viridiFill, stroke: viridi, r: 6.5 }, { data: spineNodes(eukSpinesDiscoba), fill: '#b69ad6', stroke: '#6a3fa0', r: 6 },
];

export default function App() {
  const L = 620;
  const R = 1852;
  return (
    <div style={{ position: 'absolute', left: 0, top: 0, width: 3697, height: 3746, background: '#fff', overflow: 'hidden' }}>
      <Title y={65}>Archaea</Title>
      <Title y={1297}>Bacteria</Title>
      <Title y={2513}>Eukaryota</Title>

      <Panel cx={L} cy={673} clades={archaeaClades} start={1.1} ringColor="#ecdfdf" horizon={1}
        fills={archaeaBase('#1c1c1c', '#55504c', '#050505', '#333', '#7a2e2e')} lines={archaeaLines(INK)}
        spokeSets={[{ data: spokes(archaeaLeftSpokesA02), color: siteColors.A02, width: 7 }, { data: spokes(archaeaLeftSpokesP02), color: siteColors.P02, width: 7 }, { data: spokes(archaeaLeftSpokesA01b), color: siteColors.A01b, width: 7 }]}
        nodes={[{ data: spineNodes(archaeaSpines), fill: '#fff', stroke: INK, r: 5.5 }]}
        hits={[{ data: hitNodes(archaeaLeftHitsA02), color: siteColors.A02 }, { data: hitNodes(archaeaLeftHitsP02), color: siteColors.P02 }, { data: hitNodes(archaeaLeftHitsA01b), color: siteColors.A01b }]} />
      <Panel cx={R} cy={673} clades={archaeaClades} start={1.1} ringColor="#e4e6e6" horizon={1}
        fills={archaeaBase('#7c726a', '#7c726a', '#123f63', '#333', '#7a2e2e')} lines={archaeaLines('#5a5a5a')}
        spokeSets={[{ data: spokes(archaeaRightSpokesUP, 103), color: siteColors.UP, width: 7 }, { data: spokes(archaeaRightSpokesDEEP, 103), color: siteColors.DEEP, width: 7 }]}
        nodes={[{ data: spineNodes(archaeaSpines), fill: 'rgba(255,255,255,0.25)', stroke: '#5a5a5a', r: 5.5 }]} />

      <Panel cx={L} cy={1904} clades={bacteriaClades} start={0.6} ringColor="#e8e4e4"
        fills={bacteriaFills('#4f6a1c')} lines={bacteriaLines}
        spokeSets={[{ data: spokes(bacteriaLeftSpokesA02), color: siteColors.A02, width: 2.5, opacity: 0.75 }, { data: spokes(bacteriaLeftSpokesP02), color: siteColors.P02, width: 2.5, opacity: 0.75 }, { data: spokes(bacteriaLeftSpokesP03), color: siteColors.P03, width: 2.5, opacity: 0.75 }]}
        nodes={bacteriaNodes}
        hits={[{ data: hitNodes(bacteriaLeftHitsA02), color: siteColors.A02 }, { data: hitNodes(bacteriaLeftHitsP02), color: siteColors.P02 }, { data: hitNodes(bacteriaLeftHitsP03), color: siteColors.P03 }, { data: hitNodes(bacteriaLeftHitsA01b), color: siteColors.A01b }]} />
      <Panel cx={R} cy={1904} clades={bacteriaClades} start={0.6} ringColor="#e2e6e6"
        fills={bacteriaFills('#6d7a2c')} lines={bacteriaLines}
        spokeSets={[{ data: spokes(bacteriaRightSpokesUP), color: siteColors.UP, width: 2.5, opacity: 0.75 }, { data: spokes(bacteriaRightSpokesDEEP), color: siteColors.DEEP, width: 2.5, opacity: 0.75 }, { data: spokes(bacteriaRightSpokesMED), color: siteColors.MED, width: 2.5, opacity: 0.75 }]}
        nodes={bacteriaNodes}
        hits={[{ data: hitNodes(bacteriaRightHitsDEEP), color: siteColors.DEEP }, { data: hitNodes(bacteriaRightHitsUP), color: siteColors.UP }]} />

      <Panel cx={L} cy={3133} clades={eukClades} start={0.5} inner={8} ringColor="#ecdfdf"
        band={{ inner: 96.8, from: 100.5, to: 358.6, color: '#123f63' }} whiteOut={{ inner: 70, from: 41, to: 100.5 }}
        lines={eukLines('#666', '#6b5a3c', '#555')} nodes={eukNodes('#fff', '#555', '#d8ccb8', '#6b5a3c', '#c4c4c4', '#555')}
        spokeSets={[{ data: spokes(eukLeftSpokesP02), color: siteColors.P02, width: 7.5 }, { data: spokes(eukLeftSpokesA02), color: siteColors.A02, width: 7.5 }, { data: spokes(eukLeftSpokesA01b), color: siteColors.A01b, width: 7.5 }]}
        hits={[{ data: hitNodes(eukLeftHitsP02), color: siteColors.P02 }, { data: hitNodes(eukLeftHitsA02), color: siteColors.A02 }, { data: hitNodes(eukLeftHitsA01b), color: siteColors.A01b }]} />
      <Panel cx={R} cy={3133} clades={eukClades} start={0.5} inner={8} ringColor="#e4e6e6"
        band={{ inner: 97.6, from: 100.5, to: 358.6, color: '#050505' }}
        lines={eukLines('#7a3030', '#5a5a3c', '#555')} nodes={eukNodes('rgba(255,255,255,0.15)', '#7a3030', 'rgba(255,255,255,0.15)', '#5a5a3c', 'rgba(255,255,255,0.15)', '#555')}
        spokeSets={[{ data: spokes(eukRightSpokesUP), color: siteColors.UP, width: 7.5 }, { data: spokes(eukRightSpokesMED), color: siteColors.MED, width: 7.5 }]}
        hits={[{ data: hitNodes(eukRightHitsMED), color: siteColors.MED }, { data: hitNodes(eukRightHitsUP), color: siteColors.UP }]} />

      <Box x={2450} y={389} w={670} h={556} />
      <Box x={3142} y={389} w={555} h={461} />
      <Box x={3142} y={855} w={548} h={325} />
      <Box x={3130} y={1219} w={330} h={351} />
      <Box x={2455} y={1312} w={610} h={1178} />

      <PhylumLegend title="Phylum" titleX={2486} titleY={450} names={archaeaLegend} colors={archaeaLegendColors} firstY={508} step={55.5} swatchX={2489} textX={2570} />
      <PhylumLegend title="Phylum" titleX={2486} titleY={1377} names={bacteriaLegend} colors={bacteriaLegendColors} firstY={1435} step={55.5} swatchX={2489} textX={2570} />
      <PhylumLegend title="TAX1" titleX={2450} titleY={2992} names={eukLegend} colors={eukLegendColors} firstY={3051} step={55.5} swatchX={2454} textX={2532} />

      <Label x={3159} y={450} size={58} color="#222">Site</Label>
      <Label x={3159} y={514} size={58} color="#222">Relative Abundance</Label>
      {siteLabels.map((s, i) => (
        <React.Fragment key={s}>
          <Swatch x={3173} y={571 + i * 55.5} w={25} color={siteColors[s]} />
          <Label x={3244} y={571 + i * 55.5} font='"DejaVu Sans"' size={45} spacing={2}>{s}</Label>
        </React.Fragment>
      ))}
      <Label x={3159} y={919} size={58} color="#222">Core depth</Label>
      <Label x={3159} y={982} size={58} color="#222">Relative Abundance</Label>
      {depthLabels.map((s, i) => (
        <React.Fragment key={s}>
          <Swatch x={3173} y={1039 + i * 56} w={25} color={siteColors[s]} />
          <Label x={3244} y={1039 + i * 56}>{s}</Label>
        </React.Fragment>
      ))}
      <Label x={3159} y={1282} size={58} color="#222">-log10(fdr)</Label>
      {fdrLabels.map((s, i) => (
        <React.Fragment key={s}>
          <div style={{ position: 'absolute', left: 3186 - fdrRadius[i], top: 1340 + i * 55.5 - fdrRadius[i], width: fdrRadius[i] * 2, height: fdrRadius[i] * 2, boxSizing: 'border-box', border: '4.5px solid #333', borderRadius: '50%' }} />
          <Label x={3244} y={1340 + i * 55.5}>{s}</Label>
        </React.Fragment>
      ))}
    </div>
  );
}
